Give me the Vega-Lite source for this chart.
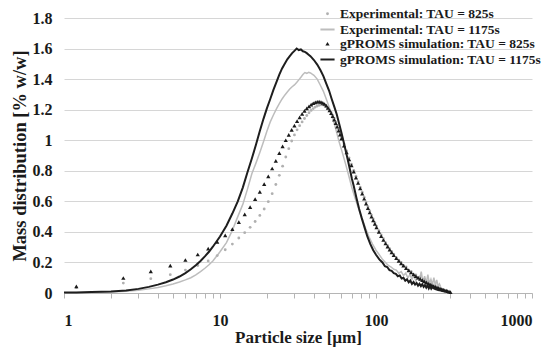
{
  "$schema": "https://vega.github.io/schema/vega-lite/v6.json",
  "width": 468,
  "height": 275,
  "autosize": "none",
  "padding": {"left": 64, "top": 18, "right": 18, "bottom": 54},
  "background": "white",
  "config": {
    "view": {"stroke": null},
    "font": "Liberation Serif",
    "axis": {"labelFont": "Liberation Serif", "titleFont": "Liberation Serif", "labelFontWeight": "bold", "titleFontWeight": "bold", "labelColor": "#1a1a1a", "titleColor": "#1a1a1a"},
    "legend": {"labelFont": "Liberation Serif", "labelFontWeight": "bold", "labelColor": "#1a1a1a", "labelLimit": 300}
  },
  "data": {"values": [
    {"s":"e825","x":1.2,"y":0.035},{"s":"e825","x":2.4,"y":0.065},{"s":"e825","x":3.6,"y":0.094},{"s":"e825","x":4.8,"y":0.12},{"s":"e825","x":6.0,"y":0.15},{"s":"e825","x":7.2,"y":0.18},{"s":"e825","x":8.4,"y":0.21},{"s":"e825","x":9.6,"y":0.245},{"s":"e825","x":10.8,"y":0.283},{"s":"e825","x":12.0,"y":0.32},{"s":"e825","x":13.2,"y":0.36},{"s":"e825","x":14.4,"y":0.395},{"s":"e825","x":15.6,"y":0.43},{"s":"e825","x":16.8,"y":0.468},{"s":"e825","x":18.0,"y":0.508},{"s":"e825","x":19.2,"y":0.55},{"s":"e825","x":20.4,"y":0.598},{"s":"e825","x":21.6,"y":0.65},{"s":"e825","x":22.8,"y":0.71},{"s":"e825","x":24.0,"y":0.77},{"s":"e825","x":25.2,"y":0.83},{"s":"e825","x":26.4,"y":0.89},{"s":"e825","x":27.6,"y":0.945},{"s":"e825","x":28.8,"y":0.995},{"s":"e825","x":30.0,"y":1.035},{"s":"e825","x":31.2,"y":1.068},{"s":"e825","x":32.4,"y":1.095},{"s":"e825","x":33.6,"y":1.12},{"s":"e825","x":34.8,"y":1.142},{"s":"e825","x":36.0,"y":1.162},{"s":"e825","x":37.2,"y":1.18},{"s":"e825","x":38.4,"y":1.195},{"s":"e825","x":39.6,"y":1.207},{"s":"e825","x":40.8,"y":1.217},{"s":"e825","x":42.0,"y":1.224},{"s":"e825","x":43.2,"y":1.229},{"s":"e825","x":44.4,"y":1.232},{"s":"e825","x":45.6,"y":1.232},{"s":"e825","x":46.8,"y":1.228},{"s":"e825","x":48.0,"y":1.22},{"s":"e825","x":49.2,"y":1.21},{"s":"e825","x":50.4,"y":1.196},{"s":"e825","x":51.6,"y":1.18},{"s":"e825","x":52.8,"y":1.162},{"s":"e825","x":54.0,"y":1.142},{"s":"e825","x":55.2,"y":1.12},{"s":"e825","x":56.4,"y":1.096},{"s":"e825","x":57.6,"y":1.072},{"s":"e825","x":58.8,"y":1.047},{"s":"e825","x":60.0,"y":1.022},{"s":"e825","x":62.4,"y":0.975},{"s":"e825","x":64.8,"y":0.93},{"s":"e825","x":67.2,"y":0.885},{"s":"e825","x":69.6,"y":0.843},{"s":"e825","x":72.0,"y":0.803},{"s":"e825","x":74.4,"y":0.765},{"s":"e825","x":76.8,"y":0.728},{"s":"e825","x":79.2,"y":0.693},{"s":"e825","x":81.6,"y":0.66},{"s":"e825","x":84.0,"y":0.627},{"s":"e825","x":86.4,"y":0.595},{"s":"e825","x":88.8,"y":0.565},{"s":"e825","x":91.2,"y":0.537},{"s":"e825","x":93.6,"y":0.51},{"s":"e825","x":96.0,"y":0.485},{"s":"e825","x":98.4,"y":0.46},{"s":"e825","x":100.8,"y":0.438},{"s":"e825","x":104.4,"y":0.408},{"s":"e825","x":108,"y":0.38},{"s":"e825","x":111.6,"y":0.355},{"s":"e825","x":115.2,"y":0.33},{"s":"e825","x":118.8,"y":0.31},{"s":"e825","x":122.4,"y":0.29},{"s":"e825","x":126,"y":0.272},{"s":"e825","x":130,"y":0.255},{"s":"e825","x":135,"y":0.232},{"s":"e825","x":140,"y":0.215},{"s":"e825","x":145,"y":0.2},{"s":"e825","x":150,"y":0.18},{"s":"e825","x":156,"y":0.17},{"s":"e825","x":162,"y":0.15},{"s":"e825","x":168,"y":0.142},{"s":"e825","x":174,"y":0.12},{"s":"e825","x":180,"y":0.118},{"s":"e825","x":186,"y":0.1},{"s":"e825","x":192,"y":0.105},{"s":"e825","x":198,"y":0.082},{"s":"e825","x":204,"y":0.09},{"s":"e825","x":210,"y":0.068},{"s":"e825","x":216,"y":0.075},{"s":"e825","x":222,"y":0.055},{"s":"e825","x":228,"y":0.06},{"s":"e825","x":234,"y":0.045},{"s":"e825","x":240,"y":0.048},{"s":"e825","x":246,"y":0.036},{"s":"e825","x":252,"y":0.035},{"s":"e825","x":258,"y":0.028},{"s":"e825","x":264,"y":0.024},{"s":"e825","x":270,"y":0.02},

    {"s":"g825","x":1.2,"y":0.043},{"s":"g825","x":2.4,"y":0.098},{"s":"g825","x":3.6,"y":0.141},{"s":"g825","x":4.8,"y":0.179},{"s":"g825","x":6.0,"y":0.216},{"s":"g825","x":7.2,"y":0.252},{"s":"g825","x":8.4,"y":0.29},{"s":"g825","x":9.6,"y":0.335},{"s":"g825","x":10.8,"y":0.377},{"s":"g825","x":12.0,"y":0.418},{"s":"g825","x":13.2,"y":0.464},{"s":"g825","x":14.4,"y":0.515},{"s":"g825","x":15.6,"y":0.562},{"s":"g825","x":16.8,"y":0.615},{"s":"g825","x":18.0,"y":0.662},{"s":"g825","x":19.2,"y":0.713},{"s":"g825","x":20.4,"y":0.763},{"s":"g825","x":21.6,"y":0.815},{"s":"g825","x":22.8,"y":0.865},{"s":"g825","x":24.0,"y":0.915},{"s":"g825","x":25.2,"y":0.96},{"s":"g825","x":26.4,"y":1.0},{"s":"g825","x":27.6,"y":1.035},{"s":"g825","x":28.8,"y":1.068},{"s":"g825","x":30.0,"y":1.095},{"s":"g825","x":31.2,"y":1.125},{"s":"g825","x":32.4,"y":1.15},{"s":"g825","x":33.6,"y":1.172},{"s":"g825","x":34.8,"y":1.192},{"s":"g825","x":36.0,"y":1.208},{"s":"g825","x":37.2,"y":1.222},{"s":"g825","x":38.4,"y":1.233},{"s":"g825","x":39.6,"y":1.242},{"s":"g825","x":40.8,"y":1.248},{"s":"g825","x":42.0,"y":1.252},{"s":"g825","x":43.2,"y":1.253},{"s":"g825","x":44.4,"y":1.25},{"s":"g825","x":45.6,"y":1.245},{"s":"g825","x":46.8,"y":1.237},{"s":"g825","x":48.0,"y":1.226},{"s":"g825","x":49.2,"y":1.212},{"s":"g825","x":50.4,"y":1.195},{"s":"g825","x":51.6,"y":1.177},{"s":"g825","x":52.8,"y":1.157},{"s":"g825","x":54.0,"y":1.135},{"s":"g825","x":55.2,"y":1.112},{"s":"g825","x":56.4,"y":1.088},{"s":"g825","x":57.6,"y":1.063},{"s":"g825","x":58.8,"y":1.037},{"s":"g825","x":60.0,"y":1.01},{"s":"g825","x":62.4,"y":0.965},{"s":"g825","x":64.8,"y":0.92},{"s":"g825","x":67.2,"y":0.875},{"s":"g825","x":69.6,"y":0.835},{"s":"g825","x":72.0,"y":0.795},{"s":"g825","x":74.4,"y":0.755},{"s":"g825","x":76.8,"y":0.72},{"s":"g825","x":79.2,"y":0.685},{"s":"g825","x":81.6,"y":0.65},{"s":"g825","x":84.0,"y":0.617},{"s":"g825","x":86.4,"y":0.585},{"s":"g825","x":88.8,"y":0.555},{"s":"g825","x":91.2,"y":0.527},{"s":"g825","x":93.6,"y":0.5},{"s":"g825","x":96.0,"y":0.475},{"s":"g825","x":98.4,"y":0.452},{"s":"g825","x":100.8,"y":0.43},{"s":"g825","x":104.4,"y":0.4},{"s":"g825","x":108,"y":0.372},{"s":"g825","x":111.6,"y":0.347},{"s":"g825","x":115.2,"y":0.324},{"s":"g825","x":118.8,"y":0.303},{"s":"g825","x":122.4,"y":0.284},{"s":"g825","x":126,"y":0.266},{"s":"g825","x":130,"y":0.248},{"s":"g825","x":135,"y":0.228},{"s":"g825","x":140,"y":0.21},{"s":"g825","x":145,"y":0.194},{"s":"g825","x":150,"y":0.179},{"s":"g825","x":156,"y":0.163},{"s":"g825","x":162,"y":0.148},{"s":"g825","x":168,"y":0.134},{"s":"g825","x":174,"y":0.122},{"s":"g825","x":180,"y":0.111},{"s":"g825","x":186,"y":0.101},{"s":"g825","x":192,"y":0.092},{"s":"g825","x":198,"y":0.084},{"s":"g825","x":204,"y":0.076},{"s":"g825","x":210,"y":0.069},{"s":"g825","x":216,"y":0.062},{"s":"g825","x":222,"y":0.056},{"s":"g825","x":228,"y":0.05},{"s":"g825","x":234,"y":0.045},{"s":"g825","x":240,"y":0.04},{"s":"g825","x":246,"y":0.036},{"s":"g825","x":252,"y":0.032},{"s":"g825","x":258,"y":0.028},{"s":"g825","x":264,"y":0.025},{"s":"g825","x":270,"y":0.021},{"s":"g825","x":276,"y":0.018},{"s":"g825","x":282,"y":0.015},{"s":"g825","x":288,"y":0.012},{"s":"g825","x":294,"y":0.009},{"s":"g825","x":300,"y":0.006},

    {"s":"e1175","x":1.0,"y":0.002},{"s":"e1175","x":1.5,"y":0.004},{"s":"e1175","x":2,"y":0.007},{"s":"e1175","x":2.5,"y":0.011},{"s":"e1175","x":3,"y":0.018},{"s":"e1175","x":3.5,"y":0.027},{"s":"e1175","x":4,"y":0.036},{"s":"e1175","x":4.5,"y":0.047},{"s":"e1175","x":5,"y":0.059},{"s":"e1175","x":5.5,"y":0.072},{"s":"e1175","x":6,"y":0.086},{"s":"e1175","x":6.5,"y":0.1},{"s":"e1175","x":7,"y":0.118},{"s":"e1175","x":7.5,"y":0.14},{"s":"e1175","x":8,"y":0.162},{"s":"e1175","x":8.5,"y":0.185},{"s":"e1175","x":9,"y":0.21},{"s":"e1175","x":9.5,"y":0.24},{"s":"e1175","x":10,"y":0.27},{"s":"e1175","x":11,"y":0.33},{"s":"e1175","x":12,"y":0.41},{"s":"e1175","x":13,"y":0.5},{"s":"e1175","x":14,"y":0.58},{"s":"e1175","x":15,"y":0.68},{"s":"e1175","x":16,"y":0.78},{"s":"e1175","x":17,"y":0.85},{"s":"e1175","x":18,"y":0.92},{"s":"e1175","x":19,"y":0.99},{"s":"e1175","x":20,"y":1.06},{"s":"e1175","x":21,"y":1.12},{"s":"e1175","x":22,"y":1.165},{"s":"e1175","x":23,"y":1.205},{"s":"e1175","x":24,"y":1.24},{"s":"e1175","x":25,"y":1.27},{"s":"e1175","x":26,"y":1.295},{"s":"e1175","x":27,"y":1.315},{"s":"e1175","x":28,"y":1.335},{"s":"e1175","x":29,"y":1.35},{"s":"e1175","x":30,"y":1.362},{"s":"e1175","x":31,"y":1.378},{"s":"e1175","x":32,"y":1.395},{"s":"e1175","x":33,"y":1.412},{"s":"e1175","x":34,"y":1.43},{"s":"e1175","x":35,"y":1.443},{"s":"e1175","x":36,"y":1.438},{"s":"e1175","x":37,"y":1.445},{"s":"e1175","x":38,"y":1.44},{"s":"e1175","x":39,"y":1.432},{"s":"e1175","x":40,"y":1.425},{"s":"e1175","x":42,"y":1.4},{"s":"e1175","x":44,"y":1.36},{"s":"e1175","x":46,"y":1.32},{"s":"e1175","x":48,"y":1.27},{"s":"e1175","x":50,"y":1.22},{"s":"e1175","x":52,"y":1.16},{"s":"e1175","x":54,"y":1.11},{"s":"e1175","x":56,"y":1.05},{"s":"e1175","x":58,"y":0.99},{"s":"e1175","x":60,"y":0.94},{"s":"e1175","x":62,"y":0.89},{"s":"e1175","x":64,"y":0.84},{"s":"e1175","x":66,"y":0.79},{"s":"e1175","x":68,"y":0.74},{"s":"e1175","x":70,"y":0.69},{"s":"e1175","x":74,"y":0.61},{"s":"e1175","x":78,"y":0.54},{"s":"e1175","x":82,"y":0.48},{"s":"e1175","x":86,"y":0.42},{"s":"e1175","x":90,"y":0.37},{"s":"e1175","x":95,"y":0.32},{"s":"e1175","x":100,"y":0.28},{"s":"e1175","x":105,"y":0.25},{"s":"e1175","x":110,"y":0.22},{"s":"e1175","x":115,"y":0.2},{"s":"e1175","x":120,"y":0.18},{"s":"e1175","x":125,"y":0.17},{"s":"e1175","x":130,"y":0.155},{"s":"e1175","x":135,"y":0.15},{"s":"e1175","x":140,"y":0.13},{"s":"e1175","x":145,"y":0.14},{"s":"e1175","x":150,"y":0.115},{"s":"e1175","x":155,"y":0.13},{"s":"e1175","x":160,"y":0.1},{"s":"e1175","x":165,"y":0.12},{"s":"e1175","x":170,"y":0.09},{"s":"e1175","x":175,"y":0.115},{"s":"e1175","x":180,"y":0.08},{"s":"e1175","x":185,"y":0.1},{"s":"e1175","x":190,"y":0.085},{"s":"e1175","x":195,"y":0.14},{"s":"e1175","x":200,"y":0.07},{"s":"e1175","x":205,"y":0.11},{"s":"e1175","x":210,"y":0.065},{"s":"e1175","x":215,"y":0.12},{"s":"e1175","x":220,"y":0.06},{"s":"e1175","x":225,"y":0.09},{"s":"e1175","x":230,"y":0.055},{"s":"e1175","x":235,"y":0.1},{"s":"e1175","x":240,"y":0.05},{"s":"e1175","x":245,"y":0.085},{"s":"e1175","x":250,"y":0.045},{"s":"e1175","x":255,"y":0.06},{"s":"e1175","x":260,"y":0.04},

    {"s":"g1175","x":1.0,"y":0.003},{"s":"g1175","x":1.2,"y":0.004},{"s":"g1175","x":1.5,"y":0.006},{"s":"g1175","x":2.0,"y":0.01},{"s":"g1175","x":2.5,"y":0.016},{"s":"g1175","x":3.0,"y":0.027},{"s":"g1175","x":3.5,"y":0.04},{"s":"g1175","x":4.0,"y":0.055},{"s":"g1175","x":4.5,"y":0.07},{"s":"g1175","x":5.0,"y":0.088},{"s":"g1175","x":5.5,"y":0.108},{"s":"g1175","x":6.0,"y":0.13},{"s":"g1175","x":6.5,"y":0.155},{"s":"g1175","x":7.0,"y":0.182},{"s":"g1175","x":7.5,"y":0.21},{"s":"g1175","x":8.0,"y":0.24},{"s":"g1175","x":8.5,"y":0.27},{"s":"g1175","x":9.0,"y":0.303},{"s":"g1175","x":9.5,"y":0.337},{"s":"g1175","x":10,"y":0.37},{"s":"g1175","x":11,"y":0.44},{"s":"g1175","x":12,"y":0.52},{"s":"g1175","x":13,"y":0.6},{"s":"g1175","x":14,"y":0.69},{"s":"g1175","x":15,"y":0.79},{"s":"g1175","x":16,"y":0.88},{"s":"g1175","x":17,"y":0.97},{"s":"g1175","x":18,"y":1.06},{"s":"g1175","x":19,"y":1.14},{"s":"g1175","x":20,"y":1.21},{"s":"g1175","x":21,"y":1.27},{"s":"g1175","x":22,"y":1.33},{"s":"g1175","x":23,"y":1.38},{"s":"g1175","x":24,"y":1.43},{"s":"g1175","x":25,"y":1.47},{"s":"g1175","x":26,"y":1.5},{"s":"g1175","x":27,"y":1.53},{"s":"g1175","x":28,"y":1.55},{"s":"g1175","x":29,"y":1.57},{"s":"g1175","x":30,"y":1.585},{"s":"g1175","x":31,"y":1.6},{"s":"g1175","x":32,"y":1.59},{"s":"g1175","x":33,"y":1.594},{"s":"g1175","x":34,"y":1.582},{"s":"g1175","x":35,"y":1.578},{"s":"g1175","x":36,"y":1.57},{"s":"g1175","x":37,"y":1.56},{"s":"g1175","x":38,"y":1.55},{"s":"g1175","x":40,"y":1.525},{"s":"g1175","x":42,"y":1.495},{"s":"g1175","x":44,"y":1.46},{"s":"g1175","x":46,"y":1.42},{"s":"g1175","x":48,"y":1.37},{"s":"g1175","x":50,"y":1.325},{"s":"g1175","x":52,"y":1.27},{"s":"g1175","x":54,"y":1.22},{"s":"g1175","x":56,"y":1.17},{"s":"g1175","x":58,"y":1.11},{"s":"g1175","x":60,"y":1.05},{"s":"g1175","x":62,"y":0.99},{"s":"g1175","x":64,"y":0.93},{"s":"g1175","x":66,"y":0.87},{"s":"g1175","x":68,"y":0.81},{"s":"g1175","x":70,"y":0.75},{"s":"g1175","x":72,"y":0.7},{"s":"g1175","x":75,"y":0.62},{"s":"g1175","x":78,"y":0.55},{"s":"g1175","x":81,"y":0.49},{"s":"g1175","x":85,"y":0.42},{"s":"g1175","x":88,"y":0.37},{"s":"g1175","x":92,"y":0.32},{"s":"g1175","x":96,"y":0.28},{"s":"g1175","x":100,"y":0.25},{"s":"g1175","x":105,"y":0.22},{"s":"g1175","x":110,"y":0.2},{"s":"g1175","x":114,"y":0.175},{"s":"g1175","x":118,"y":0.17},{"s":"g1175","x":122,"y":0.15},{"s":"g1175","x":126,"y":0.145},{"s":"g1175","x":130,"y":0.13},{"s":"g1175","x":134,"y":0.125},{"s":"g1175","x":138,"y":0.11},{"s":"g1175","x":142,"y":0.115},{"s":"g1175","x":146,"y":0.095},{"s":"g1175","x":150,"y":0.1},{"s":"g1175","x":154,"y":0.08},{"s":"g1175","x":158,"y":0.09},{"s":"g1175","x":162,"y":0.07},{"s":"g1175","x":166,"y":0.082},{"s":"g1175","x":170,"y":0.06},{"s":"g1175","x":174,"y":0.072},{"s":"g1175","x":178,"y":0.055},{"s":"g1175","x":182,"y":0.066},{"s":"g1175","x":186,"y":0.048},{"s":"g1175","x":190,"y":0.06},{"s":"g1175","x":194,"y":0.045},{"s":"g1175","x":198,"y":0.058},{"s":"g1175","x":202,"y":0.04},{"s":"g1175","x":206,"y":0.052},{"s":"g1175","x":210,"y":0.035},{"s":"g1175","x":214,"y":0.05},{"s":"g1175","x":218,"y":0.03},{"s":"g1175","x":222,"y":0.045},{"s":"g1175","x":226,"y":0.028},{"s":"g1175","x":230,"y":0.04},{"s":"g1175","x":235,"y":0.03},{"s":"g1175","x":240,"y":0.025},{"s":"g1175","x":250,"y":0.02},{"s":"g1175","x":260,"y":0.016},{"s":"g1175","x":270,"y":0.012},{"s":"g1175","x":280,"y":0.009},{"s":"g1175","x":290,"y":0.007},{"s":"g1175","x":300,"y":0.005}
  ]},
  "encoding": {
    "x": {"field": "x", "type": "quantitative",
      "scale": {"type": "log", "domain": [1, 1000], "nice": false},
      "axis": {"title": "Particle size [µm]", "grid": false,
        "values": [1,2,3,4,5,6,7,8,9,10,20,30,40,50,60,70,80,90,100,200,300,400,500,600,700,800,900,1000],
        "labelExpr": "datum.value == 1 || datum.value == 10 || datum.value == 100 || datum.value == 1000 ? '' + datum.value : ''",
        "labelOverlap": false, "labelFontSize": 16, "labelPadding": 14,
        "domainColor": "#b5b5b5", "tickColor": "#b5b5b5", "tickSize": 5,
        "titleFontSize": 17, "titlePadding": 1}},
    "y": {"field": "y", "type": "quantitative",
      "scale": {"domain": [0, 1.8], "nice": false},
      "axis": {"title": "Mass distribution [% w/w]", "values": [0,0.2,0.4,0.6,0.8,1,1.2,1.4,1.6,1.8], "format": "~g",
        "domain": false, "ticks": false, "gridColor": "#d6d6d6",
        "labelFontSize": 16, "labelPadding": 12, "titleFontSize": 18.5, "titlePadding": 3}}
  },
  "layer": [
    {"transform": [{"filter": "datum.s == 'e1175'"}],
     "mark": {"type": "line", "strokeWidth": 1.5, "stroke": "#bdbdbd"}},
    {"transform": [{"filter": "datum.s == 'e825' || datum.s == 'g825'"}],
     "mark": {"type": "point", "filled": true, "strokeWidth": 2, "opacity": 1},
     "encoding": {
       "fill": {"field": "s", "type": "nominal",
         "scale": {"domain": ["e825","e1175","g825","g1175"], "range": ["#b0b0b0","transparent","#1a1a1a","transparent"]},
         "legend": {"title": null, "orient": "none", "legendX": 255, "legendY": -11, "padding": 0, "rowPadding": 0,
           "labelFontSize": 13.5, "labelOffset": 4, "symbolStrokeWidth": 2, "labelLimit": 300,
           "labelExpr": "datum.label == 'e825' ? 'Experimental: TAU = 825s' : datum.label == 'e1175' ? 'Experimental: TAU = 1175s' : datum.label == 'g825' ? 'gPROMS simulation: TAU = 825s' : 'gPROMS simulation: TAU = 1175s'"}},
       "stroke": {"field": "s", "type": "nominal",
         "scale": {"domain": ["e825","e1175","g825","g1175"], "range": ["transparent","#bdbdbd","transparent","#1e1e1e"]},
         "legend": {"title": null, "orient": "none", "legendX": 255, "legendY": -11, "padding": 0, "rowPadding": 0,
           "labelFontSize": 13.5, "labelOffset": 4, "symbolStrokeWidth": 2, "labelLimit": 300,
           "labelExpr": "datum.label == 'e825' ? 'Experimental: TAU = 825s' : datum.label == 'e1175' ? 'Experimental: TAU = 1175s' : datum.label == 'g825' ? 'gPROMS simulation: TAU = 825s' : 'gPROMS simulation: TAU = 1175s'"}},
       "shape": {"field": "s", "type": "nominal",
         "scale": {"domain": ["e825","e1175","g825","g1175"], "range": ["circle","stroke","triangle-up","stroke"]},
         "legend": {"title": null, "orient": "none", "legendX": 255, "legendY": -11, "padding": 0, "rowPadding": 0,
           "labelFontSize": 13.5, "labelOffset": 4, "symbolStrokeWidth": 2, "labelLimit": 300,
           "labelExpr": "datum.label == 'e825' ? 'Experimental: TAU = 825s' : datum.label == 'e1175' ? 'Experimental: TAU = 1175s' : datum.label == 'g825' ? 'gPROMS simulation: TAU = 825s' : 'gPROMS simulation: TAU = 1175s'"}},
       "size": {"field": "s", "type": "nominal",
         "scale": {"type": "ordinal", "domain": ["e825","e1175","g825","g1175"], "range": [8, 200, 18, 200]},
         "legend": {"title": null, "orient": "none", "legendX": 255, "legendY": -11, "padding": 0, "rowPadding": 0,
           "labelFontSize": 13.5, "labelOffset": 4, "symbolStrokeWidth": 2, "labelLimit": 300,
           "labelExpr": "datum.label == 'e825' ? 'Experimental: TAU = 825s' : datum.label == 'e1175' ? 'Experimental: TAU = 1175s' : datum.label == 'g825' ? 'gPROMS simulation: TAU = 825s' : 'gPROMS simulation: TAU = 1175s'"}}
     }},
    {"transform": [{"filter": "datum.s == 'g1175'"}],
     "mark": {"type": "line", "strokeWidth": 2, "stroke": "#1e1e1e"}}
  ]
}
